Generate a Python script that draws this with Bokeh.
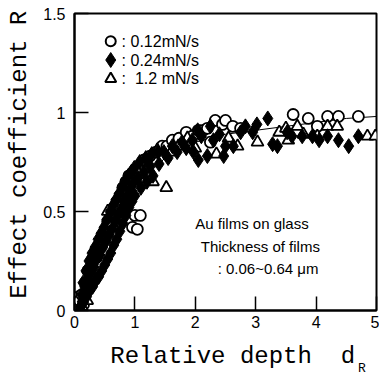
import math
from bokeh.plotting import figure
from bokeh.models import Range1d, FixedTicker, LinearAxis
from bokeh.embed import file_html
from bokeh.resources import INLINE
from bokeh.core.properties import value

# ---- data ----
circ_x = [0.07, 0.08, 0.12, 0.15, 0.18, 0.22, 0.26, 0.30, 0.35, 0.40, 0.45, 0.50, 0.55, 0.60, 0.65,
          0.70, 0.75, 0.80, 0.85, 0.90, 0.96, 1.00, 1.04, 1.09, 1.05, 1.15, 1.25, 1.35, 1.45, 1.53,
          1.62, 1.73, 1.85, 1.95, 2.05, 2.13, 2.20, 2.25, 2.33, 2.45, 2.50, 2.62, 2.75, 3.62, 3.87,
          4.02, 4.19, 4.37, 4.70]
circ_y = [0.07, 0.05, 0.08, 0.03, 0.14, 0.20, 0.18, 0.26, 0.30, 0.33, 0.37, 0.40, 0.45, 0.48, 0.52,
          0.55, 0.58, 0.62, 0.65, 0.68, 0.42, 0.48, 0.41, 0.48, 0.72, 0.76, 0.78, 0.80, 0.83, 0.83,
          0.86, 0.87, 0.90, 0.88, 0.91, 0.91, 0.92, 0.85, 0.96, 0.94, 0.96, 0.93, 0.92, 0.99, 0.97,
          0.93, 0.98, 0.98, 0.98]

dia_x = [0.10, 0.15, 0.20, 0.25, 0.30, 0.35, 0.40, 0.45, 0.50, 0.55, 0.60, 0.65, 0.70, 0.75, 0.80,
         0.85, 0.90, 0.95, 1.00, 1.10, 1.20, 1.30,
         0.12, 0.17, 0.22, 0.27, 0.32, 0.37, 0.42, 0.47, 0.52, 0.57, 0.62, 0.67, 0.72, 0.77, 0.82,
         0.87, 0.92, 0.97, 1.05, 1.15, 1.25,
         0.14, 0.19, 0.24, 0.29, 0.34, 0.39, 0.44, 0.49, 0.54, 0.59, 0.64, 0.69, 0.74, 0.79, 0.84,
         0.89, 0.94, 0.99, 1.08, 1.18, 1.28, 1.38,
         1.40, 1.48, 1.55, 1.62, 1.70, 1.78, 1.85, 1.95, 1.97, 2.04, 2.05, 2.10, 2.20, 2.25, 2.30,
         2.40, 2.47, 2.50, 2.63, 2.75, 2.83, 2.95, 3.02, 3.20, 3.28, 3.36, 3.52, 3.60, 3.77, 3.94,
         4.05, 4.19, 4.37, 4.54, 4.70]
dia_y = [0.02, 0.04, 0.07, 0.10, 0.12, 0.15, 0.17, 0.20, 0.23, 0.26, 0.29, 0.33, 0.36, 0.40, 0.44,
         0.48, 0.52, 0.55, 0.58, 0.62, 0.65, 0.68,
         0.08, 0.12, 0.16, 0.19, 0.22, 0.26, 0.28, 0.32, 0.35, 0.38, 0.41, 0.45, 0.48, 0.51, 0.55,
         0.58, 0.61, 0.64, 0.67, 0.70, 0.73,
         0.14, 0.20, 0.25, 0.29, 0.32, 0.36, 0.39, 0.42, 0.46, 0.50, 0.53, 0.56, 0.59, 0.62, 0.65,
         0.68, 0.70, 0.72, 0.75, 0.77, 0.79, 0.80,
         0.74, 0.80, 0.77, 0.83, 0.80, 0.85, 0.82, 0.86, 0.80, 0.91, 0.76, 0.88, 0.78, 0.93, 0.86,
         0.89, 0.78, 0.83, 0.83, 0.90, 0.93, 0.90, 0.94, 0.97, 0.84, 0.83, 0.90, 0.88, 0.88, 0.88,
         0.86, 0.88, 0.86, 0.83, 0.88]

tri_x = [0.12, 0.15, 0.21, 0.28, 0.35, 0.42, 0.50, 0.55, 0.62, 0.70, 0.78, 0.85, 0.95, 1.05, 1.20,
         1.30, 1.37, 1.52, 1.60, 1.72, 1.87, 2.00, 2.35, 2.55, 2.70, 3.03, 3.39, 3.50, 3.54, 3.69,
         3.79, 4.02, 4.19, 4.35, 4.85, 4.98]
tri_y = [0.02, 0.06, 0.05, 0.20, 0.27, 0.32, 0.40, 0.50, 0.44, 0.52, 0.58, 0.60, 0.67, 0.70, 0.72,
         0.65, 0.81, 0.62, 0.80, 0.83, 0.87, 0.82, 0.79, 0.87, 0.83, 0.85, 0.90, 0.92, 0.86, 0.93,
         0.89, 0.88, 0.93, 0.93, 0.88, 0.88]

fit_x = [0.0, 0.25, 0.5, 0.75, 1.0, 1.5, 2.0, 2.5, 3.0, 3.5, 4.0, 4.5, 5.0]
fit_y = [0.0, 0.20, 0.38, 0.52, 0.63, 0.77, 0.85, 0.89, 0.91, 0.93, 0.95, 0.97, 0.98]

x_ticks = [0, 1, 2, 3, 4, 5]
y_ticks = [0, 0.5, 1, 1.5]
y_tick_labels = {0: "0", 0.5: "0.5", 1: "1", 1.5: "1.5"}

legend_labels = [": 0.12mN/s", ": 0.24mN/s", ":\u00a0\u00a01.2 mN/s"]
note_lines = ["Au films on glass", "Thickness of films", ": 0.06~0.64 \u03bcm"]

# ---- figure ----
p = figure(width=379, height=378, output_backend="svg", toolbar_location=None,
           x_range=Range1d(0, 5), y_range=Range1d(0, 1.5),
           min_border_left=74, min_border_right=3, min_border_top=13, min_border_bottom=66)
p.background_fill_color = "white"
p.border_fill_color = "white"
p.outline_line_color = "black"
p.outline_line_width = 2
p.xgrid.grid_line_color = None
p.ygrid.grid_line_color = None

for ax in (p.xaxis[0], p.yaxis[0]):
    ax.axis_line_color = "black"
    ax.axis_line_width = 2
    ax.major_tick_in = 14
    ax.major_tick_out = 0
    ax.major_tick_line_width = 1.5
    ax.major_tick_line_color = "black"
    ax.minor_tick_line_color = None
    ax.major_label_text_font = "Liberation Sans"
    ax.major_label_text_font_size = "16px"
    ax.major_label_text_color = "black"
    ax.axis_label_text_font = "Liberation Mono"
    ax.axis_label_text_font_size = "24px"
    ax.axis_label_text_font_style = "normal"
    ax.axis_label_text_color = "black"

p.xaxis.ticker = FixedTicker(ticks=x_ticks)
p.yaxis.ticker = FixedTicker(ticks=y_ticks)
p.yaxis.major_label_overrides = y_tick_labels
p.xaxis.major_label_standoff = 5
p.yaxis.major_label_standoff = 9
p.xaxis.axis_label = "\u00a0Relative depth\u00a0\u00a0d"
p.xaxis.axis_label_standoff = 12
p.yaxis.axis_label = "\u00a0Effect coefficient R"
p.yaxis.axis_label_standoff = 7

# subscript "R" of d_R, as the label of a bare second axis below
sub_axis = LinearAxis(axis_label="\u00a0" * 35 + "R", ticker=FixedTicker(ticks=[]),
                      axis_line_color=None, major_tick_line_color=None, minor_tick_line_color=None,
                      major_label_text_font_size="0px", major_tick_in=0, major_tick_out=0,
                      axis_label_standoff=-12, axis_label_text_font="Liberation Mono",
                      axis_label_text_font_size="13px", axis_label_text_font_style="normal",
                      axis_label_text_color="black")
p.add_layout(sub_axis, "below")

# fit line
p.line(fit_x, fit_y, line_color="black", line_width=1)

# data
p.scatter(circ_x, circ_y, marker="circle", size=11, fill_color="white", line_color="black", line_width=1.8)
p.scatter(tri_x, tri_y, marker="triangle", size=12, fill_color="white", line_color="black", line_width=1.8)
p.scatter(dia_x, dia_y, marker="diamond", size=15, fill_color="black", line_color="black")

# legend (custom)
leg_x = [0.6, 0.6, 0.6]
leg_y = [1.36, 1.265, 1.17]
p.scatter([leg_x[0]], [leg_y[0]], marker="circle", size=10, fill_color="white", line_color="black", line_width=2)
p.scatter([leg_x[1]], [leg_y[1]], marker="diamond", size=15, fill_color="black", line_color="black")
p.scatter([leg_x[2]], [leg_y[2]], marker="triangle", size=11, fill_color="white", line_color="black", line_width=2)
p.text([0.78] * 3, leg_y, text=legend_labels, text_font=value("Liberation Sans"),
       text_font_size="16px", text_baseline="middle", text_color="black")

# note
p.text([2.0, 2.09, 2.37], [0.44, 0.325, 0.21], text=note_lines, text_font=value("Liberation Sans"),
       text_font_size="15px", text_baseline="alphabetic", text_color="black")

open("out.html", "w").write(file_html(p, INLINE))
